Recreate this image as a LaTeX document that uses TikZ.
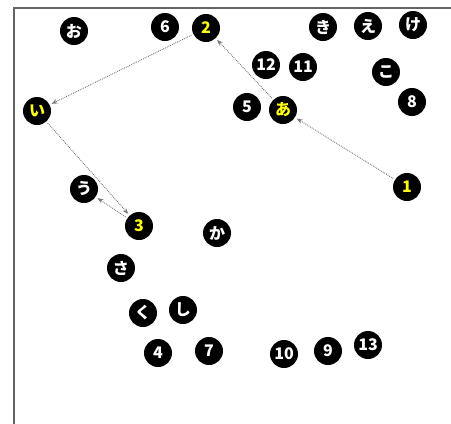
\documentclass[tikz,border=0pt]{standalone}
\usepackage{fontspec}
\usepackage{xcolor}
\usepackage{tikz}
\usetikzlibrary{arrows.meta}
\setmainfont{Noto Sans CJK JP}
\definecolor{hilite}{RGB}{255, 255, 20}
\definecolor{framegray}{RGB}{100, 100, 100}
\definecolor{hopgray}{RGB}{120, 120, 120}

\tikzset{
  dot/.style={circle, fill=black, text=white, minimum size=28pt, inner sep=0pt,
    font=\fontsize{16}{16}\selectfont\bfseries},
  hot/.style={dot, text=hilite},
  hop/.style={densely dotted, hopgray, line width=0.9pt, -{Stealth[length=6pt, width=4.5pt]},
    shorten <=2pt, shorten >=2pt}
}

\begin{document}
\begin{tikzpicture}[x=1pt, y=-1pt]

\useasboundingbox (0,0) rectangle (451,424);
\draw[line width=1.5pt, framegray] (14,424) -- (14,8) -- (451,8);

% top row
\node[dot] (o)   at (74,31)  {お};
\node[dot] (n6)  at (165,27) {6};
\node[hot] (n2)  at (206,28) {2};
\node[dot] (ki)  at (323,27) {き};
\node[dot] (e)   at (368,26) {え};
\node[dot] (ke)  at (413,25) {け};

\node[dot] (n12) at (266,65) {12};
\node[dot] (n11) at (303,67) {11};
\node[dot] (ko)  at (386,72) {こ};

\node[dot] (n5)  at (247,107) {5};
\node[hot] (a)   at (283,110) {あ};
\node[dot] (n8)  at (412,102) {8};
\node[hot] (i)   at (37,111)  {い};

% middle
\node[hot] (n1)  at (407,187) {1};
\node[dot] (u)   at (84,189)  {う};
\node[hot] (n3)  at (139,226) {3};
\node[dot] (ka)  at (217,233) {か};
\node[dot] (sa)  at (121,268) {さ};

% bottom
\node[dot] (ku)  at (143,313) {く};
\node[dot] (shi) at (183,310) {し};
\node[dot] (n4)  at (158,353) {4};
\node[dot] (n7)  at (209,351) {7};
\node[dot] (n10) at (284,354) {10};
\node[dot] (n9)  at (328,351) {9};
\node[dot] (n13) at (368,345) {13};

% route
\draw[hop] (n1) -- (a);
\draw[hop] (a) -- (n2);
\draw[hop] (n2) -- (i);
\draw[hop] (i) -- (n3);
\draw[hop] (n3) -- (u);

\end{tikzpicture}
\end{document}
